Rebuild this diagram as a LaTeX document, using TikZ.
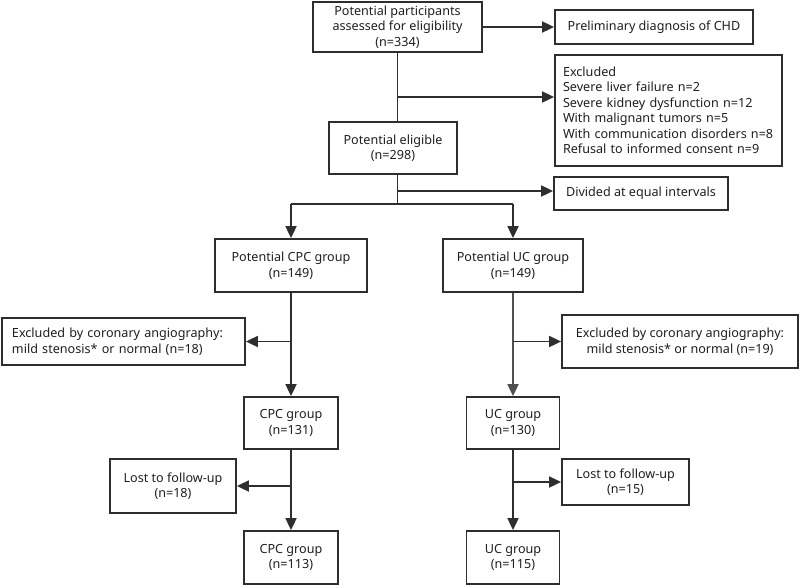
\documentclass[tikz,border=0pt]{standalone}
\usepackage{fontspec}
\setmainfont{Noto Sans}
\usetikzlibrary{arrows.meta}
\definecolor{ln}{HTML}{2E2E2E}
\definecolor{ln2}{HTML}{505050}
\definecolor{tx}{HTML}{1E1E1E}
\begin{document}
\begin{tikzpicture}[x=1pt,y=-1pt,
  box/.style={draw=ln, line width=1.8pt, inner sep=0pt, align=center,
    font=\fontsize{12.6}{15.5}\selectfont, text=tx},
  lbox/.style={box, align=left},
  conn/.style={draw=ln, line width=1.8pt},
  arr/.style={conn, -{Triangle[length=12pt,width=11pt]}},
]
\useasboundingbox (0,0) rectangle (800,587);
% nodes
\node[box, minimum width=169pt, minimum height=50pt] (top) at (397.5,27)
  {Potential participants\\assessed for eligibility\\(n=334)};
\node[box, minimum width=198pt, minimum height=34pt] (prelim) at (654,27)
  {Preliminary diagnosis of CHD};
\node[lbox, text width=211pt, inner xsep=8pt, minimum height=111pt] (excl) at (668.5,110.5)
  {Excluded\\Severe liver failure n=2\\Severe kidney dysfunction n=12\\With malignant tumors n=5\\With communication disorders n=8\\Refusal to informed consent n=9};
\node[box, minimum width=128pt, minimum height=52pt] (elig) at (393,148)
  {Potential eligible\\(n=298)};
\node[box, minimum width=174pt, minimum height=33pt] (div) at (641,193.5)
  {Divided at equal intervals};
\node[box, minimum width=152pt, minimum height=53pt] (pcpc) at (291,265.5)
  {Potential CPC group\\(n=149)};
\node[box, minimum width=140pt, minimum height=53pt] (puc) at (513,265.5)
  {Potential UC group\\(n=149)};
\node[lbox, text width=223pt, inner xsep=10pt, minimum height=47pt] (exc1) at (123.5,341.5)
  {Excluded by coronary angiography:\\mild stenosis* or normal (n=18)};
\node[box, minimum width=236pt, minimum height=53pt] (exc2) at (680,341.5)
  {Excluded by coronary angiography:\\mild stenosis* or normal (n=19)};
\node[box, minimum width=94pt, minimum height=52pt] (cpc1) at (291,423)
  {CPC group\\(n=131)};
\node[box, minimum width=93pt, minimum height=52pt] (uc1) at (513,423)
  {UC group\\(n=130)};
\node[box, minimum width=126pt, minimum height=54pt] (lost1) at (173,486)
  {Lost to follow-up\\(n=18)};
\node[box, minimum width=127pt, minimum height=46pt] (lost2) at (625.5,482)
  {Lost to follow-up\\(n=15)};
\node[box, minimum width=94pt, minimum height=53pt] (cpc2) at (291,557.5)
  {CPC group\\(n=113)};
\node[box, minimum width=93pt, minimum height=53pt] (uc2) at (513,557.5)
  {UC group\\(n=115)};
% helper coordinates
\coordinate (b1) at (397.5,97);
\coordinate (b2) at (397.5,191);
\coordinate (sp) at (397.5,204);
% connectors
\draw[arr] (top.east) -- (prelim.west);
\draw[conn] (top.south) -- (top.south |- elig.north);
\draw[arr] (b1) -- (b1 -| excl.west);
\draw[conn] (top.south |- elig.south) -- (sp);
\draw[arr] (b2) -- (b2 -| div.west);
\draw[conn] (sp -| pcpc) -- (sp -| puc);
\draw[arr] (sp -| pcpc) -- (pcpc.north);
\draw[arr] (sp -| puc) -- (puc.north);
\draw[arr] (pcpc.south) -- (cpc1.north);
\draw[arr] (pcpc.south |- exc1.east) -- (exc1.east);
\draw[arr, draw=ln2] (puc.south) -- (uc1.north);
\draw[arr] (puc.south |- exc2.west) -- (exc2.west);
\draw[arr] (cpc1.south) -- (cpc2.north);
\draw[arr] (cpc1.south |- lost1.east) -- (lost1.east);
\draw[arr] (uc1.south) -- (uc2.north);
\draw[arr] (uc1.south |- lost2.west) -- (lost2.west);
\end{tikzpicture}
\end{document}
